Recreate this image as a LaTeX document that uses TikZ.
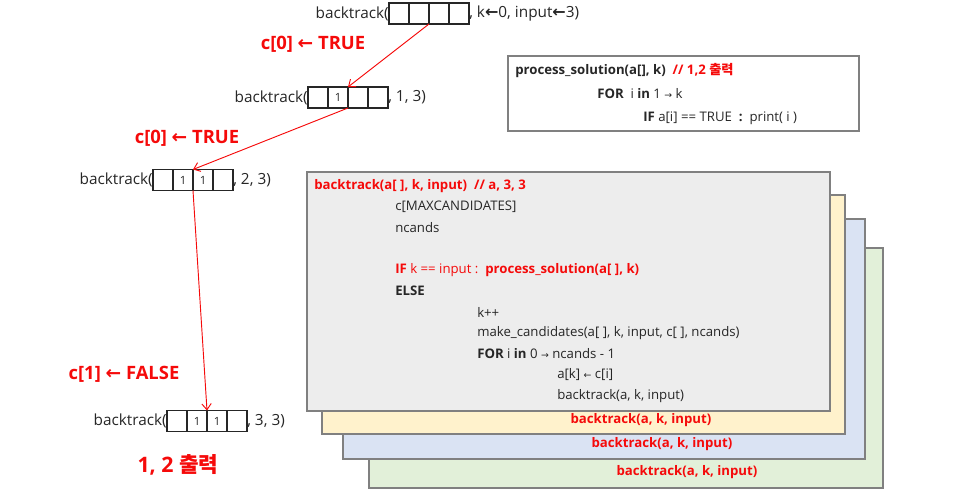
\documentclass[tikz,border=0pt]{standalone}
\usepackage{fontspec}
\setmainfont{Open Sans}
\newfontfamily\kr{Noto Sans CJK KR}
\newfontfamily\arr{DejaVu Sans}
\usetikzlibrary{arrows.meta}
\definecolor{cred}{HTML}{F50A0A}
\definecolor{ctext}{HTML}{262626}
\definecolor{cborder}{HTML}{808080}
\definecolor{cgray}{HTML}{EDEDED}
\definecolor{cyellow}{HTML}{FFF2CC}
\definecolor{cblue}{HTML}{DAE3F3}
\definecolor{cgreen}{HTML}{E2F0D9}
\begin{document}
\begin{tikzpicture}[x=0.75pt,y=-0.75pt,
  cell/.style={draw=ctext,line width=0.8pt,minimum width=15pt,minimum height=15.75pt,inner sep=0pt,outer sep=0pt,font=\fontsize{8.5}{10}\selectfont,text=ctext},
  lbl/.style={inner sep=0pt,font=\fontsize{11.5}{14}\selectfont,text=ctext},
  redlbl/.style={inner sep=0pt,font=\fontsize{13.8}{16}\selectfont\bfseries,text=cred},
  code/.style={inner sep=0pt,anchor=west,font=\fontsize{9.9}{12}\selectfont,text=ctext},
  frame/.style={draw=cborder,line width=1.6pt},
  callarrow/.style={draw=cred,line width=0.7pt,-{Straight Barb[length=4.5pt,width=7pt]}}
]
\useasboundingbox (0,0) rectangle (958,497);

% stacked frames
\node[frame,fill=cgreen,minimum width=385.5pt,minimum height=180pt,inner sep=0pt,anchor=north west] (fgreen) at (368,247) {};
\node[frame,fill=cblue,minimum width=391.5pt,minimum height=180pt,inner sep=0pt,anchor=north west] (fblue) at (342,218) {};
\node[frame,fill=cyellow,minimum width=392.25pt,minimum height=179.25pt,inner sep=0pt,anchor=north west] (fyellow) at (321,194) {};
\node[frame,fill=cgray,minimum width=392.25pt,minimum height=179.25pt,inner sep=0pt,anchor=north west] (fgray) at (306,171) {};

\node[code,anchor=center,text=cred,font=\fontsize{9.9}{12}\selectfont\bfseries] (ty) at (641,420) {backtrack(a, k, input)};
\node[code,anchor=center,text=cred,font=\fontsize{9.9}{12}\selectfont\bfseries] (tb) at (662,444) {backtrack(a, k, input)};
\node[code,anchor=center,text=cred,font=\fontsize{9.9}{12}\selectfont\bfseries] (tg) at (687,472) {backtrack(a, k, input)};

% code in gray frame
\node[code,text=cred] (l0) at (314,186) {\textbf{backtrack(a[ ], k, input)\ \ // a, 3, 3}};
\node[code] (l1) at (395,207) {c[MAXCANDIDATES]};
\node[code] (l2) at (395,228) {ncands};
\node[code,text=cred] (l3) at (395,270) {\textbf{IF} k == input :\ \ \textbf{process\_solution(a[ ], k)}};
\node[code] (l4) at (395,291) {\textbf{ELSE}};
\node[code] (l5) at (477,312) {k++};
\node[code] (l6) at (477,333) {make\_candidates(a[ ], k, input, c[ ], ncands)};
\node[code] (l7) at (477,354) {\textbf{FOR} i \textbf{in} 0 {\arr\fontsize{7}{8}\selectfont →} ncands - 1};
\node[code] (l8) at (557,375) {a[k] {\arr\fontsize{7}{8}\selectfont ←} c[i]};
\node[code] (l9) at (557,396) {backtrack(a, k, input)};

% process_solution box
\node[frame,minimum width=263.25pt,minimum height=56.25pt,inner sep=0pt,anchor=north west] (fproc) at (507,55) {};
\node[code] (p0) at (515,71) {\textbf{process\_solution(a[], k)}\ \ \textcolor{cred}{\textbf{// 1,2 {\kr 출력}}}};
\node[code] (p1) at (597,94) {\textbf{FOR}\ \ i \textbf{in} 1 {\arr\fontsize{7}{8}\selectfont →} k};
\node[code] (p2) at (643,118) {\textbf{IF} a[i] == TRUE\ \ \textbf{:}\ \ print( i )};

% arrays
\node[cell] (a1) at (399,13.5) {};
\node[cell] (a2) at (419,13.5) {};
\node[cell] (a3) at (439,13.5) {};
\node[cell] (a4) at (459,13.5) {};
\node[lbl,anchor=east] (a0) at (a1.west) {backtrack(};
\node[lbl,anchor=west] (a5) at (a4.east) {, k{\arr\bfseries\fontsize{12}{14}\selectfont ←}0, input{\arr\bfseries\fontsize{12}{14}\selectfont ←}3)};

\node[cell] (b1) at (318,97.5) {};
\node[cell] (b2) at (338,97.5) {1};
\node[cell] (b3) at (358,97.5) {};
\node[cell] (b4) at (378,97.5) {};
\node[lbl,anchor=east] (b0) at (b1.west) {backtrack(};
\node[lbl,anchor=west] (b5) at (b4.east) {, 1, 3)};

\node[cell] (c1) at (163,180) {};
\node[cell] (c2) at (183,180) {1};
\node[cell] (c3) at (203,180) {1};
\node[cell] (c4) at (223,180) {};
\node[lbl,anchor=east] (c0) at (c1.west) {backtrack(};
\node[lbl,anchor=west] (c5) at (c4.east) {, 2, 3)};

\node[cell] (d1) at (177,421) {};
\node[cell] (d2) at (197,421) {1};
\node[cell] (d3) at (217,421) {1};
\node[cell] (d4) at (237,421) {};
\node[lbl,anchor=east] (d0) at (d1.west) {backtrack(};
\node[lbl,anchor=west] (d5) at (d4.east) {, 3, 3)};

% arrows
\draw[callarrow] (a2.south east) -- (b2.north east);
\draw[callarrow] (b2.south east) -- (c2.north east);
\draw[callarrow] (c2.south east) -- (d2.north east);

% labels
\node[redlbl] (e1) at (313,44) {c[0] {\arr\bfseries\fontsize{14}{16}\selectfont ←} TRUE};
\node[redlbl] (e2) at (187,138) {c[0] {\arr\bfseries\fontsize{14}{16}\selectfont ←} TRUE};
\node[redlbl] (e3) at (124,374) {c[1] {\arr\bfseries\fontsize{14}{16}\selectfont ←} FALSE};
\node[redlbl,font=\fontsize{16}{18}\selectfont\bfseries] (e4) at (178,465) {1, 2 {\kr\bfseries 출력}};
\end{tikzpicture}
\end{document}
